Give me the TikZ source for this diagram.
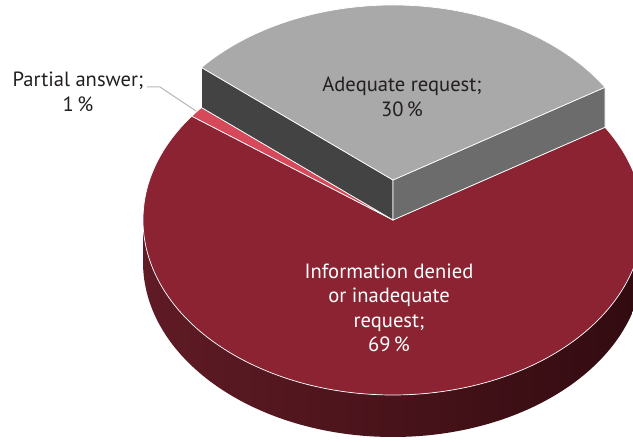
\documentclass[tikz,border=0pt]{standalone}
\usepackage{fontspec}
\setmainfont{PT Sans}
\usetikzlibrary{positioning}
\definecolor{redtop}{HTML}{8B2332}
\definecolor{redsideL}{HTML}{601B25}
\definecolor{redsideR}{HTML}{310B10}
\definecolor{pinktop}{HTML}{D5495A}
\definecolor{greytop}{HTML}{A9A9A9}
\definecolor{greyleft}{HTML}{434343}
\definecolor{greyright}{HTML}{6C6C6C}
\definecolor{txt}{HTML}{231F20}
\tikzset{
    %Define style for slice faces
    face/.style={
           draw = white, line width = 0.7pt,
           line join = round},
    %Define style for labels
    lbl/.style={
           align = center,
           font = \fontsize{20.6}{24.5}\selectfont,
           text = txt},
    % Define leader line style
    ldr/.style={
           draw = gray!55,
           line width = 1pt}
}
\begin{document}
\begin{tikzpicture}[x=1pt, y=1pt]
\useasboundingbox (0,0) rectangle (633,443);
\clip (0,0) rectangle (633,443);
 %centres
\coordinate (O) at (393,223);
\coordinate (G) at (393,263);
 %red rim
\shade[left color=redsideL, right color=redsideR]
    (O) ++(180:250pt and 175pt)
    arc[start angle=180, end angle=360, x radius=250pt, y radius=175pt]
    -- ++(0,-42)
    arc[start angle=360, end angle=180, x radius=250pt, y radius=175pt]
    -- cycle;
 %red and pink tops
\fill[redtop, face] (O) -- ++(143.6:250pt and 175pt)
    arc[start angle=143.6, end angle=392, x radius=250pt, y radius=175pt] -- cycle;
\fill[pinktop, face] (O) -- ++(140:250pt and 175pt)
    arc[start angle=140, end angle=143.6, x radius=250pt, y radius=175pt] -- cycle;
 %grey slice
\fill[greyleft, face] (O) -- ++(140:250pt and 175pt) -- ++(0,40) -- (G) -- cycle;
\fill[greyright, face] (O) -- ++(32:250pt and 175pt) -- ++(0,40) -- (G) -- cycle;
\fill[greytop, face] (G) -- ++(32:250pt and 175pt)
    arc[start angle=32, end angle=140, x radius=250pt, y radius=175pt] -- cycle;
 %labels
\node[lbl] (A) at (402,346) {Adequate request;\\30\,\%};
\node[lbl, text=white] (I) at (389,135) {Information denied\\or inadequate\\request;\\69\,\%};
\node[lbl] (P) at (78,351) {Partial answer;\\1\,\%};
\coordinate (k) at (160,356);
\coordinate (pk) at (196,332);
\draw[ldr] (P.east |- k) -- (k) -- (pk);
\end{tikzpicture}
\end{document}
